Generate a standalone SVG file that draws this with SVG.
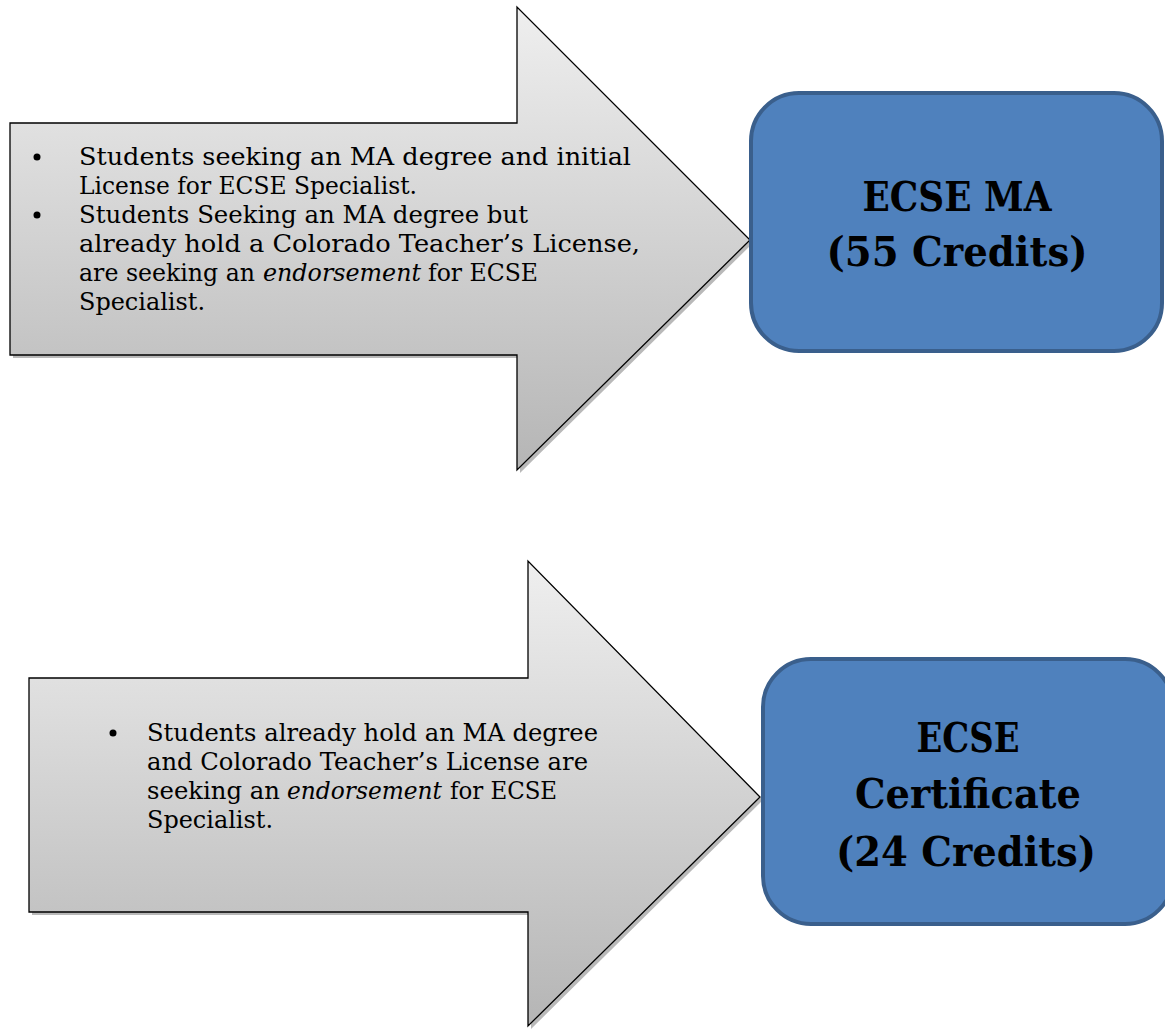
<svg xmlns="http://www.w3.org/2000/svg" width="1165" height="1032" viewBox="0 0 1165 1032">
<defs>
<linearGradient id="g1" x1="0" y1="0" x2="0" y2="1">
<stop offset="0" stop-color="#efefef"/>
<stop offset="1" stop-color="#b5b5b5"/>
</linearGradient>
<style>
.arrow{fill:url(#g1);stroke:#000;stroke-width:1.3}
.shadow{fill:#8a8a8a;opacity:0.6}
.box{fill:#4f81bd;stroke:#3a5f8c;stroke-width:4}
.t{font-family:"DejaVu Serif","Liberation Serif",serif;font-size:25px;fill:#000}
.i{font-style:italic}
.b{font-family:"DejaVu Serif","Liberation Serif",serif;font-size:41px;font-weight:bold;fill:#000;text-anchor:middle}
</style>
</defs>
<rect width="1165" height="1032" fill="#fff"/>
<g id="arrow1">
<polygon class="shadow" points="13,126 520,126 520,10 753,243 520,473 520,358 13,358"/>
<polygon class="arrow" points="10,123 517,123 517,7 750,240 517,470 517,355 10,355"/>
<circle cx="37" cy="157" r="3.5"/>
<circle cx="37" cy="215" r="3.5"/>
<text class="t" x="79" y="165" textLength="552" lengthAdjust="spacingAndGlyphs">Students seeking an MA degree and initial</text>
<text class="t" x="79" y="194" textLength="338" lengthAdjust="spacingAndGlyphs">License for ECSE Specialist.</text>
<text class="t" x="79" y="223" textLength="449" lengthAdjust="spacingAndGlyphs">Students Seeking an MA degree but</text>
<text class="t" x="79" y="252" textLength="561" lengthAdjust="spacingAndGlyphs">already hold a Colorado Teacher’s License,</text>
<text class="t" x="79" y="281" textLength="176" lengthAdjust="spacingAndGlyphs">are seeking an</text>
<text class="t i" x="263" y="281" textLength="158" lengthAdjust="spacingAndGlyphs">endorsement</text>
<text class="t" x="428" y="281" textLength="110" lengthAdjust="spacingAndGlyphs">for ECSE</text>
<text class="t" x="79" y="310" textLength="126" lengthAdjust="spacingAndGlyphs">Specialist.</text>
</g>
<g id="box1">
<rect class="box" x="751" y="93" width="411" height="258" rx="48" ry="48"/>
<text class="b" x="957" y="211" textLength="189" lengthAdjust="spacingAndGlyphs">ECSE MA</text>
<text class="b" x="957" y="266" textLength="261" lengthAdjust="spacingAndGlyphs">(55 Credits)</text>
</g>
<g id="arrow2">
<polygon class="shadow" points="32,681 531,681 531,564 763,800 531,1029 531,915 32,915"/>
<polygon class="arrow" points="29,678 528,678 528,561 760,797 528,1026 528,912 29,912"/>
<circle cx="113" cy="733" r="3.5"/>
<text class="t" x="147" y="741" textLength="451" lengthAdjust="spacingAndGlyphs">Students already hold an MA degree</text>
<text class="t" x="147" y="770" textLength="441" lengthAdjust="spacingAndGlyphs">and Colorado Teacher’s License are</text>
<text class="t" x="147" y="799" textLength="133" lengthAdjust="spacingAndGlyphs">seeking an</text>
<text class="t i" x="287" y="799" textLength="155" lengthAdjust="spacingAndGlyphs">endorsement</text>
<text class="t" x="450" y="799" textLength="107" lengthAdjust="spacingAndGlyphs">for ECSE</text>
<text class="t" x="147" y="828" textLength="126" lengthAdjust="spacingAndGlyphs">Specialist.</text>
</g>
<g id="box2">
<rect class="box" x="763" y="659" width="410" height="265" rx="48" ry="48"/>
<text class="b" x="968" y="752" textLength="103" lengthAdjust="spacingAndGlyphs">ECSE</text>
<text class="b" x="968" y="808" textLength="226" lengthAdjust="spacingAndGlyphs">Certificate</text>
<text class="b" x="966" y="866" textLength="260" lengthAdjust="spacingAndGlyphs">(24 Credits)</text>
</g>
<g id="connectors"/>
</svg>
